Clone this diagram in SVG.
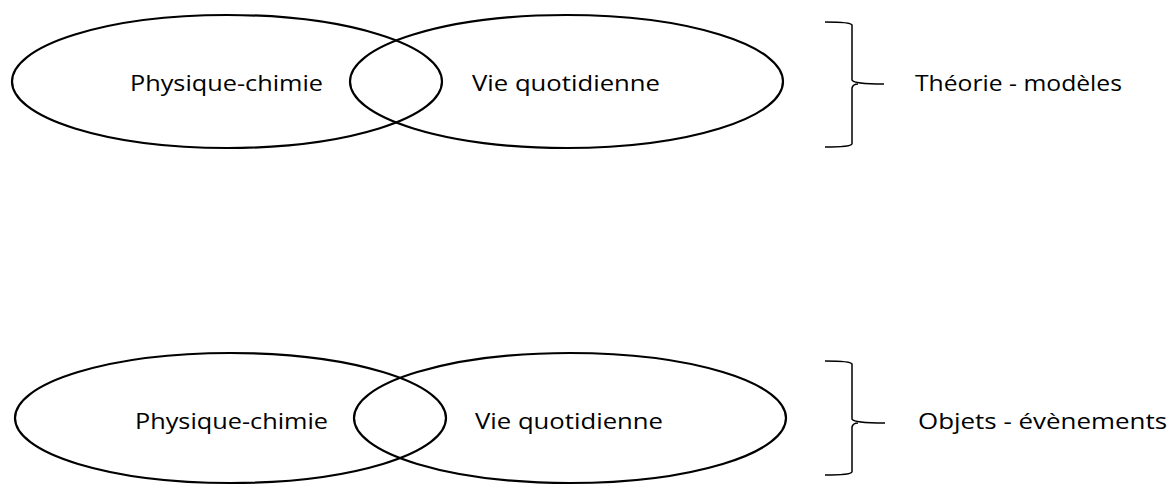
<svg xmlns="http://www.w3.org/2000/svg" width="1172" height="485" viewBox="0 0 1172 485">
<style>
.e{fill:none;stroke:#000;stroke-width:2.2}
.b{fill:none;stroke:#000;stroke-width:1.5}
text{font-family:"Open Sans","Liberation Sans",sans-serif;font-size:22px;fill:#000}
</style>
<rect width="1172" height="485" fill="#fff"/>
<g id="top-physique"><ellipse class="e" cx="227" cy="81.5" rx="215" ry="66.5"/><text x="130" y="91" textLength="193" lengthAdjust="spacingAndGlyphs">Physique-chimie</text></g>
<g id="top-vie"><ellipse class="e" cx="566.5" cy="81.5" rx="216.5" ry="66.5"/><text x="472" y="91" textLength="188" lengthAdjust="spacingAndGlyphs">Vie quotidienne</text></g>
<g id="top-brace"><path class="b" d="M825,22 Q851,22 852,25 L852,80 Q853,84 884,84 M852,144 L852,88 Q853,84 858,84 M825,147 Q851,147 852,144"/><text x="915" y="91" textLength="207" lengthAdjust="spacingAndGlyphs">Théorie - modèles</text></g>
<g id="bot-physique"><ellipse class="e" cx="230.5" cy="418" rx="215.5" ry="65"/><text x="135" y="429" textLength="193" lengthAdjust="spacingAndGlyphs">Physique-chimie</text></g>
<g id="bot-vie"><ellipse class="e" cx="570" cy="418" rx="216" ry="65"/><text x="475" y="429" textLength="188" lengthAdjust="spacingAndGlyphs">Vie quotidienne</text></g>
<g id="bot-brace"><path class="b" d="M825,361 Q851,361 852,364 L852,419 Q853,423 885,423 M852,472 L852,427 Q853,423 858,423 M825,475 Q851,475 852,472"/><text x="918" y="429" textLength="249" lengthAdjust="spacingAndGlyphs">Objets - évènements</text></g>
<g id="connectors"></g>
</svg>
